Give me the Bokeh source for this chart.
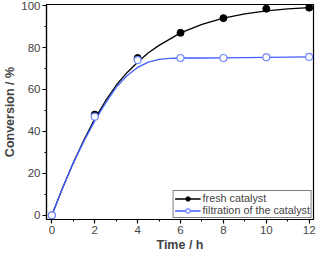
from bokeh.plotting import figure
from bokeh.models import Range1d, FixedTicker, Legend, LegendItem
from bokeh.embed import file_html
from bokeh.resources import INLINE

# measured data
time_h = [0, 2, 4, 6, 8, 10, 12]
fresh = [0, 48, 75, 87, 94, 98.5, 99]
filtration = [0, 47, 74, 75, 75, 75.3, 75.5]

# fitted curves
curve_t = [0, 0.5, 1, 1.5, 2, 2.5, 3, 3.5, 4, 4.5, 5, 5.5, 6, 7, 8, 9, 10, 11, 12]
fresh_curve = [0, 13, 25, 36, 46, 54.5, 62, 68, 73, 77.5, 81, 84, 87, 91, 94, 96, 97.5, 98.4, 99]
filt_curve = [0, 13, 25, 35.5, 45, 53.5, 61, 66.5, 70.5, 73, 74.3, 74.8, 75, 75, 75.1, 75.2, 75.3, 75.4, 75.5]

x_ticks = [0, 2, 4, 6, 8, 10, 12]
y_ticks = [0, 20, 40, 60, 80, 100]

FONT = "Liberation Sans"
BLUE = "#3f5fff"

p = figure(width=316, height=254, output_backend="svg", toolbar_location=None,
           x_range=Range1d(-0.25, 12.2), y_range=Range1d(-2, 100.5),
           min_border_left=4, min_border_right=3, min_border_top=4, min_border_bottom=4)
p.grid.visible = False
p.outline_line_color = "black"
p.outline_line_width = 1.2
p.background_fill_color = "white"

l1 = p.line(curve_t, fresh_curve, line_color="black", line_width=1.3)
l2 = p.line(curve_t, filt_curve, line_color=BLUE, line_width=1.3)
s1 = p.scatter(time_h, fresh, marker="circle", size=7, fill_color="black", line_color="black")
s2 = p.scatter(time_h, filtration, marker="circle", size=7, fill_color="white", line_color="#6f86ff", line_width=1.2)

for ax, ticks, label in ((p.xaxis[0], x_ticks, "Time / h"), (p.yaxis[0], y_ticks, "Conversion / %")):
    ax.ticker = FixedTicker(ticks=ticks, minor_ticks=[t + (ticks[1] - ticks[0]) / 2 for t in ticks[:-1]])
    ax.axis_label = label
    ax.axis_label_text_font = FONT
    ax.axis_label_text_font_style = "bold"
    ax.axis_label_text_font_size = "12.5px"
    ax.axis_label_standoff = 1
    ax.major_label_text_font = FONT
    ax.major_label_text_font_size = "11.5px"
    ax.major_label_standoff = 2
    ax.major_tick_in = 0
    ax.major_tick_out = 4
    ax.minor_tick_in = 0
    ax.minor_tick_out = 2
    ax.axis_line_width = 1.2
    ax.major_tick_line_width = 1.2

legend = Legend(items=[LegendItem(label="fresh catalyst", renderers=[l1, s1]),
                       LegendItem(label="filtration of the catalyst", renderers=[l2, s2])],
                location="bottom_right", label_text_font=FONT, label_text_font_size="10.8px",
                glyph_width=26, glyph_height=11, label_height=11, spacing=0, padding=1,
                margin=1, label_standoff=2, border_line_color="black", border_line_width=1,
                background_fill_alpha=1)
p.add_layout(legend)

open("out.html", "w").write(file_html(p, INLINE))
